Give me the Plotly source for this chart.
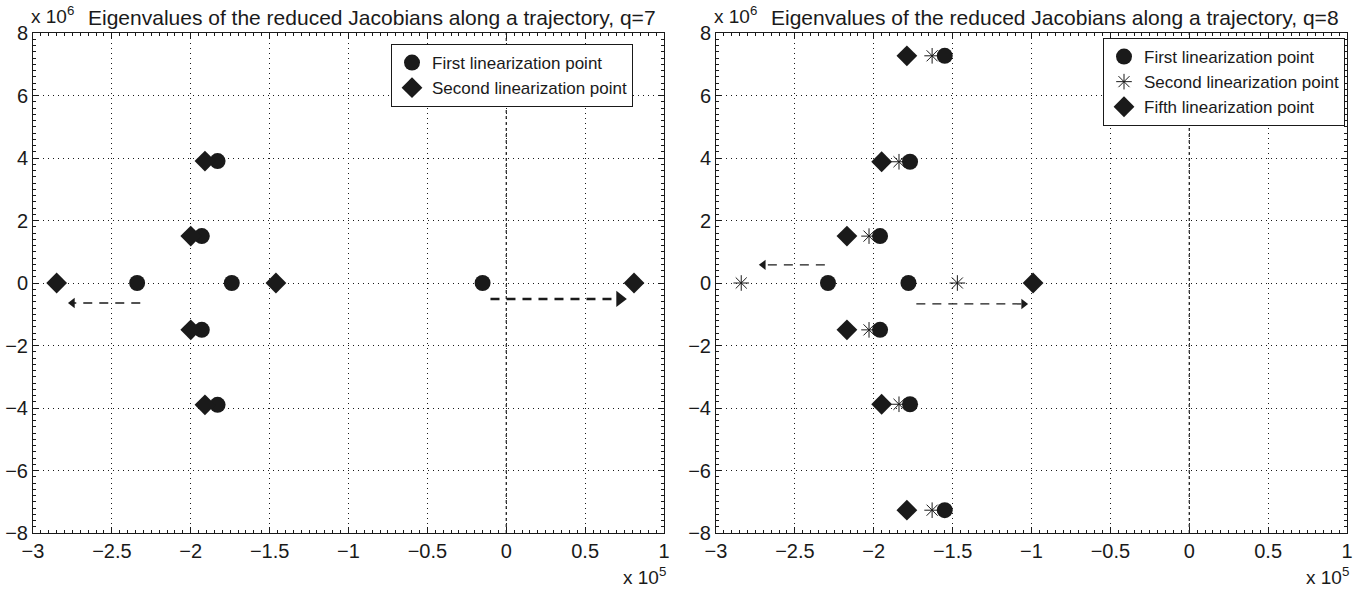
import plotly.graph_objects as go

# ---------------- data ----------------
# q = 7 (left panel)
q7_first_x = [-2.34e5, -1.74e5, -0.15e5, -1.93e5, -1.93e5, -1.83e5, -1.83e5]
q7_first_y = [0, 0, 0, 1.5e6, -1.5e6, 3.9e6, -3.9e6]
q7_second_x = [-2.85e5, -1.46e5, 0.81e5, -2.0e5, -2.0e5, -1.91e5, -1.91e5]
q7_second_y = [0, 0, 0, 1.5e6, -1.5e6, 3.9e6, -3.9e6]
q7_arrow1_x = [-2.32e5, -2.75e5]
q7_arrow1_y = [-0.64e6, -0.64e6]
q7_arrow2_x = [-0.1e5, 0.72e5]
q7_arrow2_y = [-0.51e6, -0.51e6]

# q = 8 (right panel)
q8_first_x = [-2.29e5, -1.78e5, -1.96e5, -1.96e5, -1.77e5, -1.77e5, -1.55e5, -1.55e5]
q8_first_y = [0, 0, 1.5e6, -1.5e6, 3.88e6, -3.88e6, 7.27e6, -7.27e6]
q8_second_x = [-2.84e5, -1.47e5, -2.03e5, -2.03e5, -1.84e5, -1.84e5, -1.63e5, -1.63e5]
q8_second_y = [0, 0, 1.5e6, -1.5e6, 3.88e6, -3.88e6, 7.27e6, -7.27e6]
q8_fifth_x = [-0.99e5, -2.17e5, -2.17e5, -1.95e5, -1.95e5, -1.79e5, -1.79e5]
q8_fifth_y = [0, 1.5e6, -1.5e6, 3.88e6, -3.88e6, 7.27e6, -7.27e6]
q8_arrow1_x = [-2.31e5, -2.70e5]
q8_arrow1_y = [0.58e6, 0.58e6]
q8_arrow2_x = [-1.73e5, -1.05e5]
q8_arrow2_y = [-0.67e6, -0.67e6]

imag_axis_x = [0, 0]
imag_axis_y = [-8e6, 8e6]

x_tickvals = [-3e5, -2.5e5, -2e5, -1.5e5, -1e5, -0.5e5, 0, 0.5e5, 1e5]
x_ticktext = ["\u22123", "\u22122.5", "\u22122", "\u22121.5", "\u22121", "\u22120.5", "0", "0.5", "1"]
y_tickvals = [-8e6, -6e6, -4e6, -2e6, 0, 2e6, 4e6, 6e6, 8e6]
y_ticktext = ["\u22128", "\u22126", "\u22124", "\u22122", "0", "2", "4", "6", "8"]

titles = ["Eigenvalues of the reduced Jacobians along a trajectory, q=7",
          "Eigenvalues of the reduced Jacobians along a trajectory, q=8"]

FONT = "Liberation Sans, Arial, Helvetica, sans-serif"
BLACK = "#1a1a1a"

fig = go.Figure()

def marker(sym, size, open_=False):
    if open_:
        return dict(symbol=sym, size=size, color=BLACK, line=dict(color=BLACK, width=1))
    return dict(symbol=sym, size=size, color=BLACK, line=dict(width=0))

# imaginary axis dashed lines
for xa, ya in [("x", "y"), ("x2", "y2")]:
    fig.add_trace(go.Scatter(x=imag_axis_x, y=imag_axis_y, mode="lines", xaxis=xa, yaxis=ya,
                             line=dict(color=BLACK, width=1.2, dash="3px,3px"), showlegend=False,
                             hoverinfo="skip"))

def head_size(w):
    return 9 if w < 2 else 14

def arrow(xs, ys, xa, ya, width, head):
    fig.add_trace(go.Scatter(x=xs, y=ys, mode="lines", xaxis=xa, yaxis=ya,
                             line=dict(color=BLACK, width=width, dash="9px,7px"),
                             showlegend=False, hoverinfo="skip"))
    fig.add_trace(go.Scatter(x=[xs[-1]], y=[ys[-1]], mode="markers", xaxis=xa, yaxis=ya,
                             marker=dict(symbol=head, size=head_size(width), color=BLACK),
                             showlegend=False, hoverinfo="skip"))

arrow(q7_arrow1_x, q7_arrow1_y, "x", "y", 1.3, "triangle-left")
arrow(q7_arrow2_x, q7_arrow2_y, "x", "y", 2.6, "triangle-right")
arrow(q8_arrow1_x, q8_arrow1_y, "x2", "y2", 1.3, "triangle-left")
arrow(q8_arrow2_x, q8_arrow2_y, "x2", "y2", 1.3, "triangle-right")

# left panel
fig.add_trace(go.Scatter(x=q7_first_x, y=q7_first_y, mode="markers", name="First linearization point",
                         marker=marker("circle", 16), xaxis="x", yaxis="y", legend="legend"))
fig.add_trace(go.Scatter(x=q7_second_x, y=q7_second_y, mode="markers", name="Second linearization point",
                         marker=marker("diamond", 16), xaxis="x", yaxis="y", legend="legend"))
# right panel
fig.add_trace(go.Scatter(x=q8_first_x, y=q8_first_y, mode="markers", name="First linearization point",
                         marker=marker("circle", 16), xaxis="x2", yaxis="y2", legend="legend2"))
fig.add_trace(go.Scatter(x=q8_second_x, y=q8_second_y, mode="markers", name="Second linearization point",
                         marker=marker("asterisk-open", 13, True), xaxis="x2", yaxis="y2", legend="legend2"))
fig.add_trace(go.Scatter(x=q8_fifth_x, y=q8_fifth_y, mode="markers", name="Fifth linearization point",
                         marker=marker("diamond", 16), xaxis="x2", yaxis="y2", legend="legend2"))

W, H = 1364, 594

def px(x):
    return x / W

def py(y):
    return 1 - y / H

left_dom = [px(33), px(664)]
right_dom = [px(716), px(1347)]
y_dom = [py(533), py(33)]

GRIDDASH = "1px,4px"

def xaxis(dom, anchor):
    return dict(domain=dom, anchor=anchor, range=[-3e5, 1e5], tickvals=x_tickvals, ticktext=x_ticktext,
                showgrid=True, gridcolor=BLACK, griddash=GRIDDASH, gridwidth=1,
                showline=True, linecolor=BLACK, linewidth=1, mirror="allticks",
                ticks="inside", ticklen=6, tickcolor=BLACK, automargin=False,
                minor=dict(dtick=5000, ticks="inside", ticklen=3, tickcolor=BLACK, showgrid=False),
                zeroline=False, tickfont=dict(family=FONT, size=20, color=BLACK))

def yaxis(anchor):
    return dict(domain=y_dom, anchor=anchor, range=[-8e6, 8e6], tickvals=y_tickvals, ticktext=y_ticktext,
                showgrid=True, gridcolor=BLACK, griddash=GRIDDASH, gridwidth=1,
                showline=True, linecolor=BLACK, linewidth=1, mirror="allticks",
                ticks="inside", ticklen=6, tickcolor=BLACK, automargin=False,
                minor=dict(dtick=2e5, ticks="inside", ticklen=3, tickcolor=BLACK, showgrid=False),
                zeroline=False, tickfont=dict(family=FONT, size=20, color=BLACK))

annotations = []
for (dx0, dx1), t in zip([(33, 664), (716, 1347)], titles):
    annotations.append(dict(text=t, xref="paper", yref="paper", x=px((dx0 + dx1) / 2 + 23),
                            y=py(17), xanchor="center", yanchor="middle", showarrow=False,
                            font=dict(family=FONT, size=21, color=BLACK)))
    annotations.append(dict(text="x 10<sup>6</sup>", xref="paper", yref="paper", x=px(dx0 - 4),
                            y=py(15), xanchor="left", yanchor="middle", showarrow=False,
                            font=dict(family=FONT, size=19, color=BLACK)))
    annotations.append(dict(text="x 10<sup>5</sup>", xref="paper", yref="paper", x=px(dx1 + 4),
                            y=py(576), xanchor="right", yanchor="middle", showarrow=False,
                            font=dict(family=FONT, size=19, color=BLACK)))

legend_common = dict(bgcolor="white", bordercolor=BLACK, borderwidth=1,
                     font=dict(family=FONT, size=17, color=BLACK),
                     xref="paper", yref="paper", xanchor="right", yanchor="top",
                     tracegroupgap=0, itemsizing="trace")

fig.update_layout(
    width=W, height=H, margin=dict(l=0, r=0, t=0, b=0),
    paper_bgcolor="white", plot_bgcolor="white",
    xaxis=xaxis(left_dom, "y"), yaxis=yaxis("x"),
    xaxis2=xaxis(right_dom, "y2"), yaxis2=yaxis("x2"),
    legend=dict(x=px(633), y=py(44), **legend_common),
    legend2=dict(x=px(1345), y=py(38), **legend_common),
    annotations=annotations,
    showlegend=True,
)

fig.write_html("out.html", config={"displayModeBar": False},
               post_script="document.body.style.margin='0';")
